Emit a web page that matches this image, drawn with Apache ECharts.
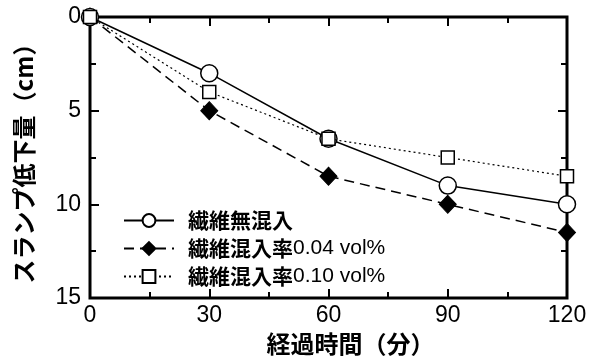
<!DOCTYPE html>
<html><head><meta charset="utf-8">
<script src="https://cdn.jsdelivr.net/npm/echarts@6/dist/echarts.min.js"></script>
<style>html,body{margin:0;padding:0;background:#fff}#c{width:592px;height:363px}</style>
</head><body><div id="c"></div>
<script>
const xValues = [0, 30, 60, 90, 120];
const seriesNames = ['繊維無混入', '繊維混入率0.04 vol%', '繊維混入率0.10 vol%'];
const noFiber = [0, 3, 6.5, 9, 10];
const fiber004 = [0, 5, 8.5, 10, 11.5];
const fiber010 = [0, 4, 6.5, 7.5, 8.5];

const jp = '"Noto Sans CJK JP", sans-serif';
const num = '"Liberation Sans", Arial, sans-serif';
const pair = arr => xValues.map((x, i) => [x, arr[i]]);

function line() { return {show: false, onZero: false, lineStyle: {color: '#000', width: 3}}; }
function tick() { return {show: true, inside: true, length: 9, lineStyle: {color: '#000', width: 2}}; }
function minor() { return {show: true, splitNumber: 2, length: 6, lineStyle: {color: '#000', width: 2}}; }

const chart = echarts.init(document.getElementById('c'));
chart.setOption({
  animation: false,
  grid: {left: 90, right: 25, top: 17, bottom: 65, show: true,
         borderColor: '#000', borderWidth: 3, backgroundColor: 'transparent'},
  xAxis: [
    {type: 'value', min: 0, max: 120, interval: 30, position: 'bottom',
     axisLine: line(), axisTick: tick(), minorTick: minor(), splitLine: {show: false},
     axisLabel: {color: '#000', fontSize: 23, fontFamily: num, margin: 6},
     name: '経過時間（分）', nameLocation: 'middle', nameGap: 33,
     nameTextStyle: {color: '#000', fontSize: 24, fontWeight: 'bold', fontFamily: jp,
                     padding: [0, 0, 0, 44]}},
    {type: 'value', min: 0, max: 120, interval: 30, position: 'top',
     axisLine: line(), axisTick: tick(), minorTick: minor(), splitLine: {show: false},
     axisLabel: {show: false}}
  ],
  yAxis: [
    {type: 'value', min: 0, max: 15, interval: 5, inverse: true, position: 'left',
     axisLine: line(), axisTick: tick(), minorTick: minor(), splitLine: {show: false},
     axisLabel: {color: '#000', fontSize: 23, fontFamily: num, margin: 9},
     name: 'スランプ低下量（cm）', nameLocation: 'middle', nameGap: 54, nameRotate: 90,
     nameTextStyle: {color: '#000', fontSize: 24, fontWeight: 'bold', fontFamily: jp}},
    {type: 'value', min: 0, max: 15, interval: 5, inverse: true, position: 'right',
     axisLine: line(), axisTick: tick(), minorTick: minor(), splitLine: {show: false},
     axisLabel: {show: false}}
  ],
  legend: {
    orient: 'vertical', left: 118, top: 205, itemGap: 7, itemWidth: 50, itemHeight: 16,
    data: seriesNames,
    formatter: name => {
      const m = name.match(/^([^0-9]+)(.*)$/);
      return m[2] ? '{j|' + m[1] + '}{n|' + m[2] + '}' : '{j|' + name + '}';
    },
    textStyle: {
      color: '#000', padding: [0, 0, 0, 9],
      rich: {
        j: {fontFamily: jp, fontWeight: 'bold', fontSize: 21, lineHeight: 22, color: '#000'},
        n: {fontFamily: num, fontSize: 21, lineHeight: 22, color: '#000'}
      }
    }
  },
  series: [
    {name: seriesNames[0], type: 'line', data: pair(noFiber), symbol: 'circle', symbolSize: 17,
     clip: false, z: 5,
     lineStyle: {color: '#000', width: 1.5, type: 'solid'},
     itemStyle: {color: '#fff', borderColor: '#000', borderWidth: 1.5}},
    {name: seriesNames[1], type: 'line', data: pair(fiber004), symbol: 'diamond', symbolSize: [17, 18],
     clip: false, z: 4,
     lineStyle: {color: '#000', width: 1.5, type: [10, 6]},
     itemStyle: {color: '#000', borderColor: '#000', borderWidth: 1}},
    {name: seriesNames[2], type: 'line', data: pair(fiber010), symbol: 'rect', symbolSize: 13,
     clip: false, z: 6,
     lineStyle: {color: '#000', width: 1.2, type: [2, 3]},
     itemStyle: {color: '#fff', borderColor: '#000', borderWidth: 1.5}}
  ]
});
</script></body></html>
